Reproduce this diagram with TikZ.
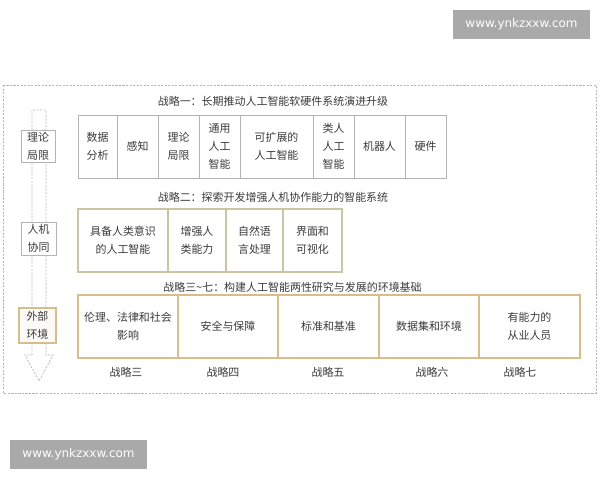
\documentclass[tikz,border=0pt]{standalone}
\usepackage{fontspec}
\usepackage{xcolor}
\usepackage{tikz}
\newfontfamily\cjk{Noto Sans CJK SC}
\newfontfamily\wmfont{DejaVu Sans}

\definecolor{txtgray}{HTML}{3A3A3A}
\definecolor{linegray}{HTML}{B4B4B4}
\definecolor{linekhaki}{HTML}{C9C6A4}
\definecolor{linegold}{HTML}{D6BE8A}
\definecolor{markgray}{HTML}{A9A9A9}

\tikzset{
  txt/.style={font=\cjk\fontsize{7.8}{12.8}\selectfont, text=txtgray, align=center, inner sep=0pt},
  cellone/.style={txt, draw=linegray, line width=0.7pt, minimum height=1.575cm},
  celltwo/.style={txt, draw=linekhaki, line width=0.8pt, minimum height=1.575cm},
  cellthree/.style={txt, draw=linegold, line width=0.8pt, minimum height=1.575cm},
  sidebox/.style={txt, draw=linegray, fill=white, line width=0.7pt},
  fineline/.style={linegray, line width=0.5pt, dash pattern=on 1.5pt off 1pt},
  watermark/.style={fill=markgray, text=white, font=\wmfont\fontsize{8.5}{10}\selectfont, minimum width=3.425cm, minimum height=0.725cm}
}

\begin{document}
\begin{tikzpicture}[x=0.025cm, y=-0.025cm]
\useasboundingbox (0,0) rectangle (600,480);

% watermarks
\node[watermark] (wmtop) at (521.5,24.5) {www.ynkzxxw.com};
\node[watermark] (wmbottom) at (78.5,454.5) {www.ynkzxxw.com};

% outer frame
\draw[fineline] (3,85) rectangle (596,393);

% hollow arrow on the left
\draw[fineline]
  (32,355) -- (32,110) -- (46,110) -- (46,355) -- (53,355) -- (39,381) -- (25,355) -- cycle;

\node[sidebox, minimum width=0.85cm, minimum height=0.8cm] (theory) at (38,146) {理论\\局限};
\node[sidebox, minimum width=0.875cm, minimum height=0.825cm] (human) at (38.5,238.5) {人机\\协同};
\node[sidebox, draw=linegold, fill=linegold!8, line width=1.2pt, minimum width=0.925cm, minimum height=0.875cm] (outside) at (37.5,325.5) {外部\\环境};

% strategy one
\node[txt] (titleone) at (273,101) {战略一：长期推动人工智能软硬件系统演进升级};
\node[cellone, minimum width=0.975cm] (a1) at (97.5,146.5) {数据\\分析};
\node[cellone, minimum width=1.025cm] (a2) at (137.5,146.5) {感知};
\node[cellone, minimum width=1.025cm] (a3) at (178.5,146.5) {理论\\局限};
\node[cellone, minimum width=1.025cm] (a4) at (219.5,146.5) {通用\\人工\\智能};
\node[cellone, minimum width=1.825cm] (a5) at (276.5,146.5) {可扩展的\\人工智能};
\node[cellone, minimum width=1.025cm] (a6) at (333.5,146.5) {类人\\人工\\智能};
\node[cellone, minimum width=1.275cm] (a7) at (379.5,146.5) {机器人};
\node[cellone, minimum width=1.025cm] (a8) at (425.5,146.5) {硬件};

% strategy two
\node[txt] (titletwo) at (273,197) {战略二：探索开发增强人机协作能力的智能系统};
\node[celltwo, minimum width=2.25cm] (b1) at (123,240.5) {具备人类意识\\的人工智能};
\node[celltwo, minimum width=1.45cm] (b2) at (197,240.5) {增强人\\类能力};
\node[celltwo, minimum width=1.425cm] (b3) at (254.5,240.5) {自然语\\言处理};
\node[celltwo, minimum width=1.475cm] (b4) at (312.5,240.5) {界面和\\可视化};

% strategies three to seven
\node[txt] (titlethree) at (292.5,287) {战略三\textasciitilde 七：构建人工智能两性研究与发展的环境基础};
\node[cellthree, minimum width=2.5cm] (c1) at (128,326.5) {伦理、法律和社会\\影响};
\node[cellthree, minimum width=2.5cm] (c2) at (228,326.5) {安全与保障};
\node[cellthree, minimum width=2.525cm] (c3) at (328.5,326.5) {标准和基准};
\node[cellthree, minimum width=2.5cm] (c4) at (429,326.5) {数据集和环境};
\node[cellthree, minimum width=2.525cm] (c5) at (529.5,326.5) {有能力的\\从业人员};

\node[txt] (s3) at (126,372) {战略三};
\node[txt] (s4) at (223,372) {战略四};
\node[txt] (s5) at (328,372) {战略五};
\node[txt] (s6) at (432,372) {战略六};
\node[txt] (s7) at (520,372) {战略七};
\end{tikzpicture}
\end{document}
